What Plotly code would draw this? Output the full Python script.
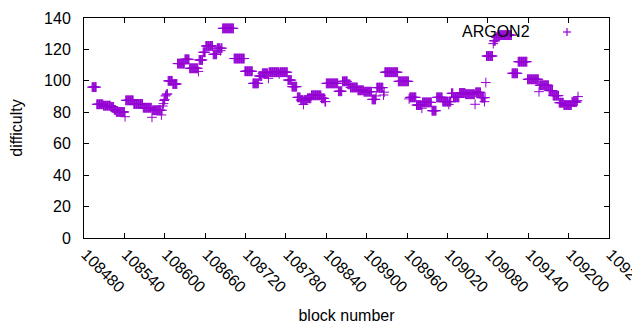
import numpy as np
import plotly.graph_objects as go

# Runs of constant difficulty: block where run starts, difficulty value
run_start = [108492, 108499, 108509, 108520, 108525, 108528, 108542, 108554, 108568, 108581,
             108582, 108597, 108598, 108599, 108600, 108601, 108602, 108603, 108605, 108612,
             108619, 108630, 108637, 108651, 108657, 108661, 108672, 108678, 108686, 108703,
             108719, 108731, 108740, 108745, 108754, 108755, 108770, 108771, 108783, 108789,
             108797, 108802, 108812, 108818, 108833, 108838, 108840, 108858, 108864, 108872,
             108876, 108887, 108896, 108908, 108914, 108915, 108925, 108926, 108927, 108947,
             108963, 108964, 108974, 108982, 108983, 108997, 109004, 109013, 109026, 109029,
             109038, 109047, 109062, 109070, 109077, 109078, 109088, 109089, 109092, 109095,
             109116, 109125, 109139, 109156, 109157, 109171, 109177, 109186, 109193, 109205,
             109213, 109214]
run_value = [96, 85.1, 84.2, 83.4, 81.5, 80.2, 87.6, 85.3, 82.9, 76.8,
             81.3, 84, 85.5, 87.5, 88.2, 90.4, 91, 91.6, 100, 98,
             111, 113.7, 108, 113.3, 118.2, 122.2, 116.9, 120.8, 133.4, 114.2,
             106.1, 98.4, 103.1, 104.8, 101.6, 105.5, 104.4, 105.5, 100.5, 96.3,
             89.5, 87.8, 88.9, 90.8, 88.9, 86.8, 98.4, 93.4, 99.7, 97.8,
             95.8, 94, 93.1, 88.2, 90.4, 95.7, 91, 92.8, 105.5, 99.7,
             88.5, 89.5, 84.6, 82.6, 86.3, 81, 89.5, 86.8, 92.1, 89.5,
             92.3, 91.5, 92.7, 89.3, 98.9, 115.8, 123.7, 125.5, 127.7, 129.1,
             104.8, 112.2, 101, 93.1, 97.2, 93.8, 90.6, 86.1, 84.6, 86.5,
             87.4, 90]
last_block = 109214

# Single blocks that differ from the surrounding run
outlier_block = [108541, 108595, 108650, 108683, 108806, 109022, 109061, 109075]
outlier_value = [77.2, 78.3, 106, 119.2, 85, 85, 85.1, 86.8]

x_ticks = list(range(108480, 109261, 60))

blocks = []
diffs = []
for i, s in enumerate(run_start):
    e = run_start[i + 1] if i + 1 < len(run_start) else last_block + 1
    for b in range(s, e):
        blocks.append(b)
        diffs.append(run_value[i])
lookup = {b: k for k, b in enumerate(blocks)}
for b, v in zip(outlier_block, outlier_value):
    if b in lookup:
        diffs[lookup[b]] = v

purple = "#9400D3"
font = "Liberation Sans, Arial, sans-serif"

fig = go.Figure()
fig.add_trace(go.Scatter(
    x=blocks, y=diffs, mode="markers", name="ARGON2",
    marker=dict(symbol="cross-thin", size=7, color=purple,
                line=dict(color=purple, width=1)),
    showlegend=False, cliponaxis=False,
))

# page body has an 8px default margin, so margins are offset by 8px
fig.update_layout(
    width=640, height=330,
    margin=dict(l=76, r=39, t=10, b=100, autoexpand=False),
    plot_bgcolor="white", paper_bgcolor="white",
    font=dict(family=font, size=16, color="black"),
)
fig.update_xaxes(
    range=[108480, 109260], tickvals=x_ticks, ticktext=[str(t) for t in x_ticks],
    tickangle=45, ticks="inside", ticklen=5, tickcolor="black",
    showline=True, linecolor="black", linewidth=1, mirror="ticks",
    showgrid=False, zeroline=False, automargin=False, ticklabeloverflow="allow",
    ticklabelshift=2,
    title=dict(text="block number", font=dict(size=16), standoff=14),
    tickfont=dict(size=16),
)
fig.update_yaxes(
    range=[0, 140], dtick=20, ticks="inside", ticklen=5, tickcolor="black",
    showline=True, linecolor="black", linewidth=1, mirror="ticks",
    showgrid=False, zeroline=False, automargin=False,
    title=dict(text="difficulty", font=dict(size=16), standoff=22),
    tickfont=dict(size=16), ticklabelstandoff=9,
)

# gnuplot-style key: text then sample symbol
fig.add_annotation(x=(532 - 84) / 525, y=(238 - 32) / 220, xref="paper", yref="paper",
                   text="ARGON2", showarrow=False, xanchor="right", yanchor="middle",
                   font=dict(family=font, size=16, color="black"))
fig.add_shape(type="line", xref="paper", yref="paper",
              x0=(563 - 84) / 525, x1=(571 - 84) / 525, y0=(238 - 32) / 220, y1=(238 - 32) / 220,
              line=dict(color=purple, width=1.2))
fig.add_shape(type="line", xref="paper", yref="paper",
              x0=(567 - 84) / 525, x1=(567 - 84) / 525, y0=(238 - 28) / 220, y1=(238 - 36) / 220,
              line=dict(color=purple, width=1.2))

fig.write_html("out.html")
